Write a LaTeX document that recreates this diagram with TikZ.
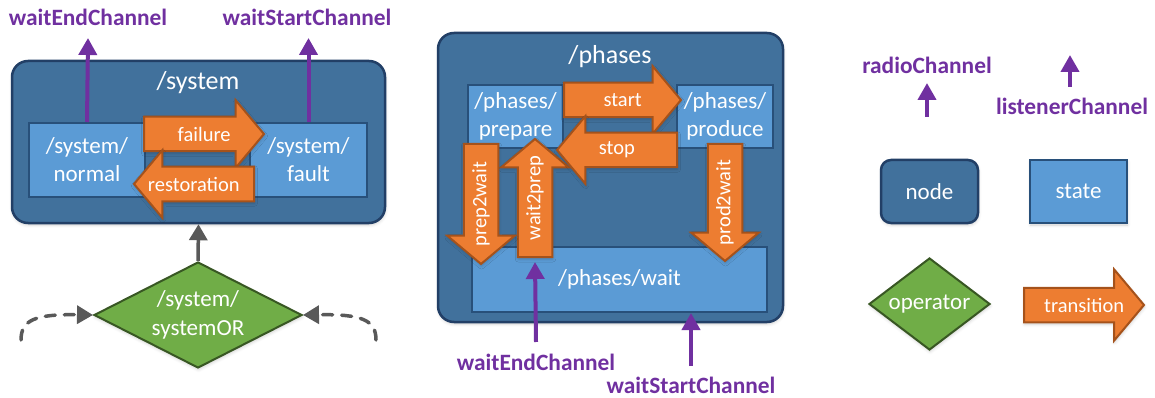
\documentclass[tikz,border=0pt]{standalone}
\usepackage{fontspec}
\setmainfont{Carlito}
\usetikzlibrary{shapes.geometric,shapes.arrows,arrows.meta,calc,shadows.blur}

\definecolor{nodefill}{HTML}{41719C}
\definecolor{nodeline}{HTML}{223F66}
\definecolor{statefill}{HTML}{5B9BD5}
\definecolor{stateline}{HTML}{28507A}
\definecolor{opfill}{HTML}{70AD47}
\definecolor{opline}{HTML}{385723}
\definecolor{transfill}{HTML}{ED7D31}
\definecolor{transline}{HTML}{A5521B}
\definecolor{chancolor}{HTML}{7030A0}
\definecolor{inputgray}{HTML}{595959}

\begin{document}
\begin{tikzpicture}[x=1pt, y=-1pt]
  \tikzstyle{soft}=[blur shadow={shadow xshift=0.5pt, shadow yshift=-2pt, shadow blur radius=3pt, shadow opacity=18}]
  \tikzstyle{nodebox}=[rectangle, rounded corners=16pt, draw=nodeline, fill=nodefill, line width=2.5pt, soft]
  \tikzstyle{statebox}=[rectangle, draw=stateline, fill=statefill, line width=2pt, inner sep=2pt, text=white, align=center, font=\fontsize{23}{28}\selectfont]
  \tikzstyle{title}=[text=white, font=\fontsize{26}{30}\selectfont]
  \tikzstyle{opnode}=[diamond, aspect=2, draw=opline, fill=opfill, line width=2pt, inner sep=0pt, text=white, align=center, font=\fontsize{23}{29}\selectfont, soft]
  \tikzstyle{trans}=[single arrow, draw=transline, fill=transfill, line width=2pt, single arrow tip angle=100, single arrow head extend=16.5pt, inner xsep=0pt, inner ysep=9pt, text height=12pt, text depth=2.5pt, anchor=tail, soft]
  \tikzstyle{translabel}=[text=white, font=\fontsize{20.5}{22}\selectfont, inner sep=0pt]
  \tikzstyle{chan}=[draw=chancolor, line width=4pt, -{Triangle[width=18pt,length=17pt]}]
  \tikzstyle{chanlabel}=[text=chancolor, font=\fontsize{23.4}{26}\bfseries\selectfont]
  \tikzstyle{input}=[draw=inputgray, line width=3.5pt, -{Triangle[width=18pt,length=16pt]}]

  \useasboundingbox (0,0) rectangle (1155,398);

  % /system with its two states
  \node[nodebox, minimum width=373pt, minimum height=162pt] (system) at (198.5,142) {};
  \node[title] (systemT) at (198,83) {/system};
  \node[statebox, minimum width=116pt, minimum height=74pt] (normal) at (87,160) {/system/\\normal};
  \node[statebox, minimum width=117pt, minimum height=74pt] (fault) at (308.5,160) {/system/\\fault};
  \node[trans, minimum height=120pt] (failure) at (143,134) {};
  \node[trans, minimum height=120pt, shape border rotate=180] (restoration) at (255,184) {};
  \node[translabel] (failureT) at ($(failure.tail)!.5!(failure.tip)$) {failure};
  \node[translabel] (restorationT) at ($(restoration.tail)!.5!(restoration.tip)$) {restoration};

  \coordinate (weTip) at (88,38);
  \coordinate (wsTip) at (308.5,38);
  \node[chanlabel] (weL) at (88,17) {waitEndChannel};
  \node[chanlabel] (wsL) at (307,17) {waitStartChannel};
  \draw[chan] (normal.north) -- (weTip);
  \draw[chan] (fault.north) -- (wsTip);

  % operator feeding /system
  \node[opnode, minimum width=208pt, minimum height=106pt] (systemOR) at (198,315) {/system/\\systemOR};
  \draw[input] (systemOR.north) -- (system.south);
  \coordinate (inL) at (21,340);
  \coordinate (inR) at (376,340);
  \draw[input, dash pattern=on 10pt off 9pt, line cap=round] (inL) .. controls (21,320) and (35,314) .. (systemOR.west);
  \draw[input, dash pattern=on 10pt off 9pt, line cap=round] (inR) .. controls (376,320) and (362,314) .. (systemOR.east);

  % /phases with prepare, produce and wait
  \node[nodebox, minimum width=345pt, minimum height=289pt] (phases) at (610.5,177.5) {};
  \node[title] (phasesT) at (610,57) {/phases};
  \node[statebox, minimum width=95pt, minimum height=63pt] (prepare) at (515.5,116.5) {/phases/\\prepare};
  \node[statebox, minimum width=96pt, minimum height=63pt] (produce) at (725,116.5) {/phases/\\produce};
  \node[statebox, minimum width=295pt, minimum height=65pt] (wait) at (619.5,279.5) {/phases/wait};

  \node[trans, minimum height=117pt] (start) at (563,100) {};
  \node[trans, minimum height=118pt, rotate=90] (wait2prep) at (535,258) {};
  \node[trans, minimum height=120pt, shape border rotate=180] (stop) at (678,150) {};
  \node[trans, minimum height=120pt, rotate=90, shape border rotate=180] (prep2wait) at (481,143) {};
  \node[trans, minimum height=117pt, rotate=90, shape border rotate=180] (prod2wait) at (725,143) {};
  \node[translabel] (startT) at ($(start.tail)!.5!(start.tip)$) {start};
  \node[translabel] (stopT) at ($(stop.tail)!.5!(stop.tip)$) {stop};
  \node[translabel, rotate=90] (wait2prepT) at ($(wait2prep.tail)!.5!(wait2prep.tip)$) {wait2prep};
  \node[translabel, rotate=90] (prep2waitT) at ($(prep2wait.tail)!.5!(prep2wait.tip)$) {prep2wait};
  \node[translabel, rotate=90] (prod2waitT) at ($(prod2wait.tail)!.5!(prod2wait.tip)$) {prod2wait};

  \coordinate (weTail) at (536,342);
  \coordinate (wsTail) at (691,366);
  \draw[chan] (weTail) -- ([yshift=-4pt]wait2prep.tail);
  \draw[chan] (wsTail) -- (wsTail |- wait.south);
  \node[chanlabel] (weL2) at (536,362) {waitEndChannel};
  \node[chanlabel] (wsL2) at (691,385) {waitStartChannel};

  % legend
  \node[chanlabel] (radioL) at (927,65) {radioChannel};
  \coordinate (radioTail) at (927,117);
  \coordinate (radioTip) at (927,83);
  \draw[chan] (radioTail) -- (radioTip);
  \coordinate (listenTail) at (1070,87);
  \coordinate (listenTip) at (1070,55);
  \draw[chan] (listenTail) -- (listenTip);
  \node[chanlabel] (listenL) at (1072,106) {listenerChannel};

  \node[nodebox, rounded corners=10pt, minimum width=97pt, minimum height=63pt, text=white, font=\fontsize{23}{28}\selectfont] (lnode) at (929.5,191.5) {node};
  \node[statebox, soft, minimum width=97pt, minimum height=63pt] (lstate) at (1078.5,191.5) {state};
  \node[opnode, aspect=1.3, minimum width=121pt, minimum height=92pt] (lop) at (929.5,304) {operator};
  \node[trans, minimum height=120pt, single arrow head extend=18.5pt] (ltrans) at (1023,305) {};
  \node[translabel] (ltransT) at ($(ltrans.tail)!.5!(ltrans.tip)$) {transition};
\end{tikzpicture}
\end{document}
